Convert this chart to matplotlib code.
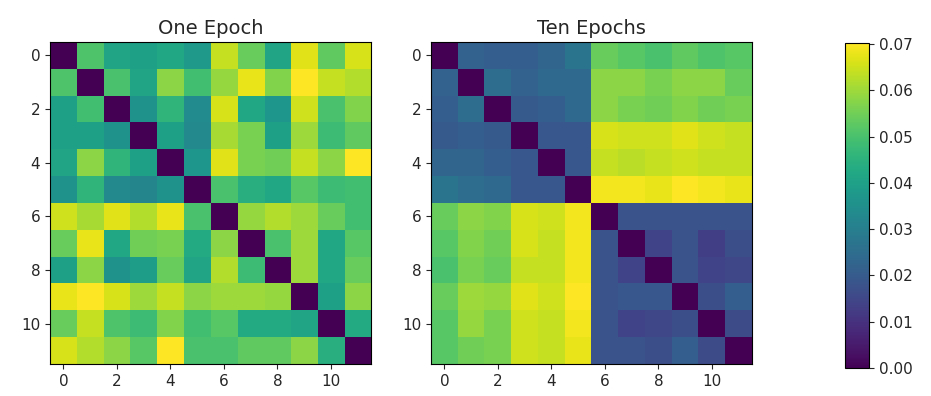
import numpy as np
import matplotlib
matplotlib.use("Agg")
import matplotlib.pyplot as plt

titles = ["One Epoch", "Ten Epochs"]

one_epoch = [
    [0.000, 0.051, 0.041, 0.040, 0.042, 0.038, 0.064, 0.054, 0.041, 0.067, 0.053, 0.066],
    [0.051, 0.000, 0.050, 0.041, 0.058, 0.049, 0.059, 0.068, 0.057, 0.070, 0.064, 0.062],
    [0.040, 0.049, 0.000, 0.036, 0.046, 0.034, 0.066, 0.042, 0.037, 0.065, 0.050, 0.057],
    [0.040, 0.040, 0.036, 0.000, 0.040, 0.033, 0.061, 0.056, 0.040, 0.060, 0.048, 0.053],
    [0.041, 0.058, 0.046, 0.040, 0.000, 0.037, 0.067, 0.056, 0.055, 0.064, 0.058, 0.070],
    [0.036, 0.046, 0.033, 0.032, 0.036, 0.000, 0.050, 0.044, 0.042, 0.052, 0.048, 0.049],
    [0.065, 0.061, 0.067, 0.062, 0.068, 0.050, 0.000, 0.059, 0.062, 0.060, 0.054, 0.049],
    [0.054, 0.068, 0.042, 0.055, 0.056, 0.043, 0.058, 0.000, 0.050, 0.060, 0.042, 0.052],
    [0.040, 0.058, 0.036, 0.039, 0.054, 0.041, 0.062, 0.048, 0.000, 0.060, 0.042, 0.054],
    [0.068, 0.070, 0.066, 0.060, 0.064, 0.058, 0.060, 0.060, 0.059, 0.000, 0.040, 0.058],
    [0.054, 0.064, 0.051, 0.048, 0.057, 0.049, 0.052, 0.043, 0.043, 0.041, 0.000, 0.043],
    [0.066, 0.062, 0.058, 0.052, 0.070, 0.050, 0.050, 0.053, 0.053, 0.058, 0.044, 0.000],
]

ten_epochs = [
    [0.000, 0.022, 0.021, 0.021, 0.023, 0.027, 0.054, 0.052, 0.050, 0.053, 0.051, 0.052],
    [0.022, 0.000, 0.025, 0.022, 0.024, 0.024, 0.058, 0.058, 0.056, 0.058, 0.058, 0.054],
    [0.021, 0.025, 0.000, 0.020, 0.021, 0.024, 0.058, 0.056, 0.055, 0.057, 0.055, 0.056],
    [0.020, 0.021, 0.020, 0.000, 0.019, 0.019, 0.066, 0.065, 0.065, 0.067, 0.065, 0.064],
    [0.023, 0.023, 0.021, 0.019, 0.000, 0.019, 0.064, 0.063, 0.064, 0.065, 0.064, 0.064],
    [0.027, 0.025, 0.024, 0.019, 0.019, 0.000, 0.069, 0.069, 0.068, 0.070, 0.069, 0.068],
    [0.054, 0.058, 0.057, 0.066, 0.065, 0.069, 0.000, 0.018, 0.018, 0.018, 0.018, 0.018],
    [0.052, 0.057, 0.055, 0.066, 0.064, 0.069, 0.018, 0.000, 0.014, 0.018, 0.013, 0.017],
    [0.050, 0.056, 0.054, 0.064, 0.064, 0.069, 0.018, 0.014, 0.000, 0.018, 0.014, 0.015],
    [0.054, 0.060, 0.059, 0.067, 0.065, 0.070, 0.018, 0.019, 0.019, 0.000, 0.017, 0.021],
    [0.052, 0.059, 0.056, 0.065, 0.064, 0.069, 0.018, 0.014, 0.015, 0.017, 0.000, 0.016],
    [0.052, 0.055, 0.056, 0.065, 0.064, 0.068, 0.018, 0.018, 0.017, 0.021, 0.016, 0.000],
]

cbar_ticks = [0.00, 0.01, 0.02, 0.03, 0.04, 0.05, 0.06, 0.07]
axis_ticks = [0, 2, 4, 6, 8, 10]

W, H = 931, 396
fig = plt.figure(figsize=(W / 100, H / 100), dpi=100)

def px_axes(x0, y0, x1, y1):
    return fig.add_axes([x0 / W, 1 - y1 / H, (x1 - x0) / W, (y1 - y0) / H])

ax1 = px_axes(50, 42, 371, 364)
ax2 = px_axes(431, 42, 752, 364)
cax = px_axes(845, 43, 869, 368)

vmin, vmax = 0.0, 0.0702
for ax, data, title in [(ax1, one_epoch, titles[0]), (ax2, ten_epochs, titles[1])]:
    im = ax.imshow(np.array(data), cmap="viridis", vmin=vmin, vmax=vmax, aspect="auto")
    ax.set_title(title, fontsize=14, color="#262626", pad=6)
    ax.set_xticks(axis_ticks)
    ax.set_yticks(axis_ticks)
    ax.tick_params(labelsize=11, colors="#262626")

cb = fig.colorbar(im, cax=cax, ticks=cbar_ticks)
cb.ax.set_yticklabels([f"{t:.2f}" for t in cbar_ticks])
cb.ax.tick_params(labelsize=11, colors="#262626")

fig.savefig("out.png", dpi=100)
